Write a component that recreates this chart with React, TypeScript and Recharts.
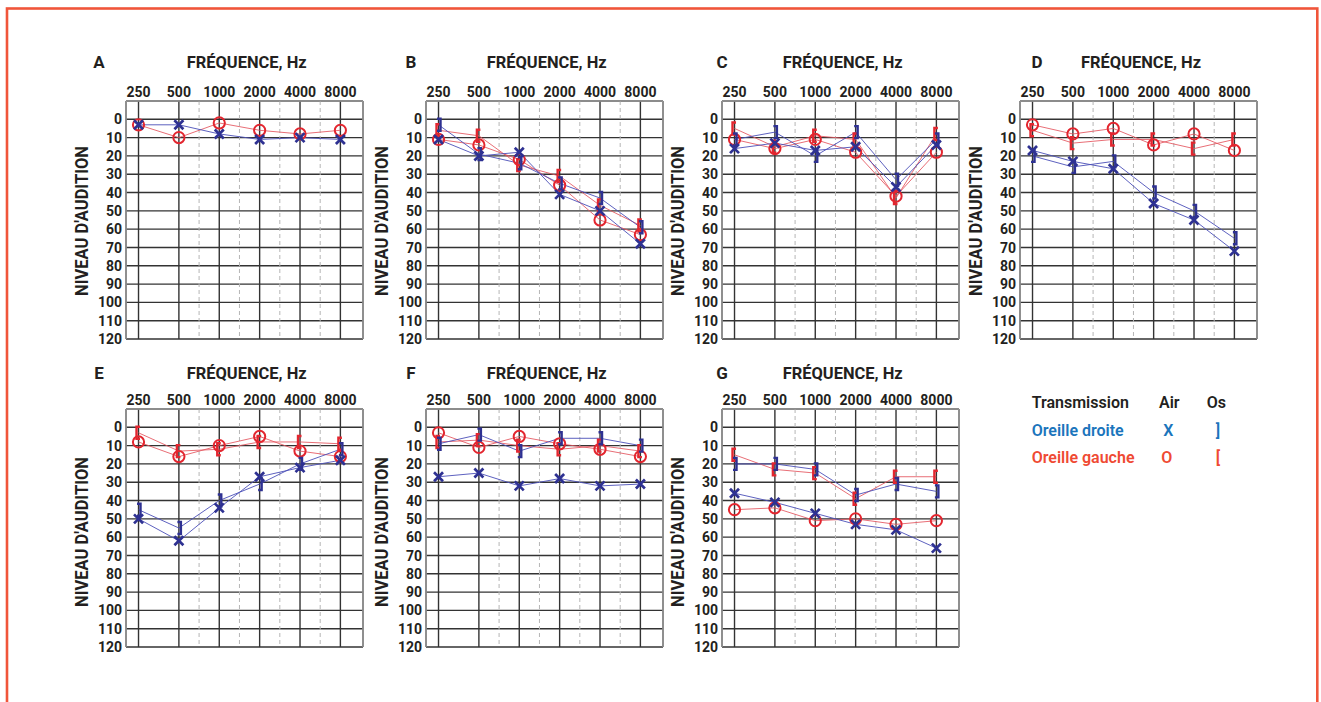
import { CartesianGrid, Line, LineChart, ReferenceLine, XAxis, YAxis } from 'recharts'

const FREQS = ['250', '500', '1000', '2000', '4000', '8000']
const LEVELS = [0, 10, 20, 30, 40, 50, 60, 70, 80, 90, 100, 110, 120]
const HALF_OCTAVES = [1.5, 2.5, 3.5, 4.5]

// dB HL per frequency, droite = right ear (blue), gauche = left ear (red)
const A_AIR_DROITE = [3, 3, 8, 11, 10, 11]
const A_AIR_GAUCHE = [3, 10, 2, 6, 8, 6]

const B_AIR_DROITE = [11, 20, 18, 41, 50, 68]
const B_OS_DROITE = [3, 19, 24, 35, 43, 59]
const B_AIR_GAUCHE = [11, 14, 22, 36, 55, 63]
const B_OS_GAUCHE = [6, 9, 25, 31, 47, 58]

const C_AIR_DROITE = [16, 13, 17, 15, 37, 14]
const C_OS_DROITE = [11, 7, 20, 7, 33, 11]
const C_AIR_GAUCHE = [11, 16, 11, 18, 42, 18]
const C_OS_GAUCHE = [5, 15, 9, 11, 43, 8]

const D_AIR_DROITE = [17, 23, 27, 46, 55, 72]
const D_OS_DROITE = [20, 26, 23, 40, 50, 65]
const D_AIR_GAUCHE = [3, 8, 5, 14, 8, 17]
const D_OS_GAUCHE = [6, 13, 11, 11, 16, 11]

const E_AIR_DROITE = [50, 62, 44, 27, 22, 18]
const E_OS_DROITE = [45, 55, 40, 31, 20, 12]
const E_AIR_GAUCHE = [8, 16, 10, 5, 13, 16]
const E_OS_GAUCHE = [3, 13, 12, 8, 8, 9]

const F_AIR_DROITE = [27, 25, 32, 28, 32, 31]
const F_OS_DROITE = [9, 4, 13, 6, 6, 10]
const F_AIR_GAUCHE = [3, 11, 5, 9, 12, 16]
const F_OS_GAUCHE = [8, 7, 10, 12, 10, 13]

const G_AIR_DROITE = [36, 41, 47, 53, 56, 66]
const G_OS_DROITE = [20, 20, 23, 37, 31, 35]
const G_AIR_GAUCHE = [45, 44, 51, 50, 53, 51]
const G_OS_GAUCHE = [15, 23, 25, 39, 27, 27]

const BLUE = '#2e3192'
const BLUE_LINE = '#4b50b8'
const RED = '#e3262f'
const RED_LINE = '#e4555e'
const FONT = 'Roboto, "Open Sans", sans-serif'
const INK = '#231f20'

const X_MIN = -0.31
const X_MAX = 5.56
const PLOT_W = 237
const PLOT_H = 238
const Y_AXIS_W = 45
const X_AXIS_H = 30
const BOTTOM_PAD = 14

const ROW1 = 100.5
const ROW2 = 408.5

const PANELS = [
  { id: 'A', left: 125.7, top: ROW1, letterX: 99, airD: A_AIR_DROITE, osD: [], airG: A_AIR_GAUCHE, osG: [] },
  { id: 'B', left: 425.7, top: ROW1, letterX: 411, airD: B_AIR_DROITE, osD: B_OS_DROITE, airG: B_AIR_GAUCHE, osG: B_OS_GAUCHE },
  { id: 'C', left: 721.7, top: ROW1, letterX: 722, airD: C_AIR_DROITE, osD: C_OS_DROITE, airG: C_AIR_GAUCHE, osG: C_OS_GAUCHE },
  { id: 'D', left: 1020, top: ROW1, letterX: 1037, airD: D_AIR_DROITE, osD: D_OS_DROITE, airG: D_AIR_GAUCHE, osG: D_OS_GAUCHE },
  { id: 'E', left: 125.7, top: ROW2, letterX: 99, airD: E_AIR_DROITE, osD: E_OS_DROITE, airG: E_AIR_GAUCHE, osG: E_OS_GAUCHE },
  { id: 'F', left: 425.7, top: ROW2, letterX: 411, airD: F_AIR_DROITE, osD: F_OS_DROITE, airG: F_AIR_GAUCHE, osG: F_OS_GAUCHE },
  { id: 'G', left: 721.7, top: ROW2, letterX: 722, airD: G_AIR_DROITE, osD: G_OS_DROITE, airG: G_AIR_GAUCHE, osG: G_OS_GAUCHE },
]

const hidden = (p: any) => p.cy == null || p.value == null || Number.isNaN(p.cy)

const CrossDot = (p: any) => {
  if (hidden(p)) return <g key={p.index} />
  const { cx, cy } = p
  const s = 4.5
  return (
    <path
      key={p.index}
      d={`M${cx - s},${cy - s}L${cx + s},${cy + s}M${cx + s},${cy - s}L${cx - s},${cy + s}`}
      stroke={BLUE}
      strokeWidth={2.7}
      fill="none"
    />
  )
}

const CircleDot = (p: any) => {
  if (hidden(p)) return <g key={p.index} />
  return <circle key={p.index} cx={p.cx} cy={p.cy} r={5.6} stroke={RED} strokeWidth={2} fill="none" />
}

const RightBracket = (p: any) => {
  if (hidden(p)) return <g key={p.index} />
  const x = p.cx + 2
  const { cy } = p
  return (
    <path
      key={p.index}
      d={`M${x - 3.5},${cy - 6}H${x}V${cy + 6}H${x - 3.5}`}
      stroke={BLUE}
      strokeWidth={2.4}
      fill="none"
    />
  )
}

const LeftBracket = (p: any) => {
  if (hidden(p)) return <g key={p.index} />
  const x = p.cx - 2
  const { cy } = p
  return (
    <path
      key={p.index}
      d={`M${x + 3.5},${cy - 6}H${x}V${cy + 6}H${x + 3.5}`}
      stroke={RED}
      strokeWidth={2.4}
      fill="none"
    />
  )
}

const FreqTick = (p: any) => (
  <text x={p.x} y={p.y} textAnchor="middle" fontFamily={FONT} fontWeight={700} fontSize={14} fill={INK}>
    {FREQS[p.payload.value]}
  </text>
)

const LevelTick = (p: any) => (
  <text x={p.x} y={p.y} dy="0.36em" textAnchor="end" fontFamily={FONT} fontWeight={700} fontSize={14} fill={INK}>
    {p.payload.value}
  </text>
)

function Audiogram({ panel }: { panel: (typeof PANELS)[number] }) {
  const data = FREQS.map((_, i) => ({
    x: i,
    airD: panel.airD[i] ?? null,
    osD: panel.osD[i] ?? null,
    airG: panel.airG[i] ?? null,
    osG: panel.osG[i] ?? null,
  }))
  return (
    <div style={{ position: 'absolute', left: panel.left - Y_AXIS_W, top: panel.top - X_AXIS_H }}>
      <LineChart
        width={Y_AXIS_W + PLOT_W + 5}
        height={X_AXIS_H + PLOT_H + BOTTOM_PAD}
        data={data}
        margin={{ top: 0, right: 5, bottom: BOTTOM_PAD, left: 0 }}
      >
        <CartesianGrid stroke="#333" strokeWidth={1.4} />
        {HALF_OCTAVES.map((h) => (
          <ReferenceLine key={h} x={h} stroke="#b5b5b5" strokeDasharray="4 3" strokeWidth={1} />
        ))}
        <ReferenceLine y={-10} stroke="#9a9a9a" strokeWidth={1.5} />
        <ReferenceLine x={X_MIN} stroke="#9a9a9a" strokeWidth={1.5} />
        <ReferenceLine x={X_MAX} stroke="#9a9a9a" strokeWidth={1.5} />
        <XAxis
          dataKey="x"
          type="number"
          orientation="top"
          domain={[X_MIN, X_MAX]}
          ticks={[0, 1, 2, 3, 4, 5]}
          height={X_AXIS_H}
          axisLine={false}
          tickLine={false}
          tickSize={0}
          tickMargin={4}
          tick={FreqTick}
          interval={0}
          allowDataOverflow
        />
        <YAxis
          type="number"
          reversed
          domain={[-10, 120]}
          ticks={LEVELS}
          width={Y_AXIS_W}
          axisLine={false}
          tickLine={false}
          tickSize={0}
          tickMargin={4}
          tick={LevelTick}
          interval={0}
          allowDataOverflow
        />
        {panel.osG.length > 0 && (
          <Line dataKey="osG" type="linear" stroke={RED_LINE} strokeWidth={1} strokeOpacity={0.85} dot={LeftBracket} isAnimationActive={false} />
        )}
        <Line dataKey="airG" type="linear" stroke={RED_LINE} strokeWidth={1} strokeOpacity={0.85} dot={CircleDot} isAnimationActive={false} />
        {panel.osD.length > 0 && (
          <Line dataKey="osD" type="linear" stroke={BLUE_LINE} strokeWidth={1} strokeOpacity={0.9} dot={RightBracket} isAnimationActive={false} />
        )}
        <Line dataKey="airD" type="linear" stroke={BLUE_LINE} strokeWidth={1} strokeOpacity={0.9} dot={CrossDot} isAnimationActive={false} />
      </LineChart>
    </div>
  )
}

export default function App() {
  return (
    <div style={{ position: 'absolute', left: 0, top: 0, width: 1321, height: 702, background: '#fff', overflow: 'hidden' }}>
      {PANELS.map((p) => (
        <Audiogram key={p.id} panel={p} />
      ))}
      <svg width={1321} height={702} style={{ position: 'absolute', left: 0, top: 0, pointerEvents: 'none' }}>
        <rect x={7} y={8.5} width={1310.3} height={800} fill="none" stroke="#f0553a" strokeWidth={2.6} />
        {PANELS.map((p) => {
          const titleY = p.top === ROW1 ? 68.3 : 379
          const labelY = p.top === ROW1 ? 221 : 532
          return (
            <g key={p.id} fontFamily={FONT} fontWeight={700} fill={INK}>
              <text x={p.letterX} y={titleY} textAnchor="middle" fontSize={17}>
                {p.id}
              </text>
              <text
                x={p.left + 121}
                y={titleY}
                textAnchor="middle"
                fontSize={17}
                textLength={120}
                lengthAdjust="spacingAndGlyphs"
              >
                FRÉQUENCE, Hz
              </text>
              <text
                x={0}
                y={0}
                transform={`translate(${p.left - 38},${labelY}) rotate(-90)`}
                textAnchor="middle"
                fontSize={17.5}
                textLength={150}
                lengthAdjust="spacingAndGlyphs"
              >
                NIVEAU D'AUDITION
              </text>
            </g>
          )
        })}
        <g fontFamily={FONT} fontWeight={600} fontSize={16}>
          <text x={1031.7} y={407.7} fill={INK}>Transmission</text>
          <text x={1159} y={407.7} fill={INK}>Air</text>
          <text x={1206.7} y={407.7} fill={INK}>Os</text>
          <text x={1031.7} y={436} fill="#1b75bc">Oreille droite</text>
          <text x={1168.3} y={436} fill="#1b75bc" textAnchor="middle">X</text>
          <text x={1218} y={436} fill="#1b75bc" textAnchor="middle">]</text>
          <text x={1031.7} y={463.3} fill="#ef4a33">Oreille gauche</text>
          <text x={1166.7} y={463.3} fill="#ef4a33" textAnchor="middle">O</text>
          <text x={1218} y={463.3} fill="#ef4a33" textAnchor="middle">[</text>
        </g>
      </svg>
    </div>
  )
}
